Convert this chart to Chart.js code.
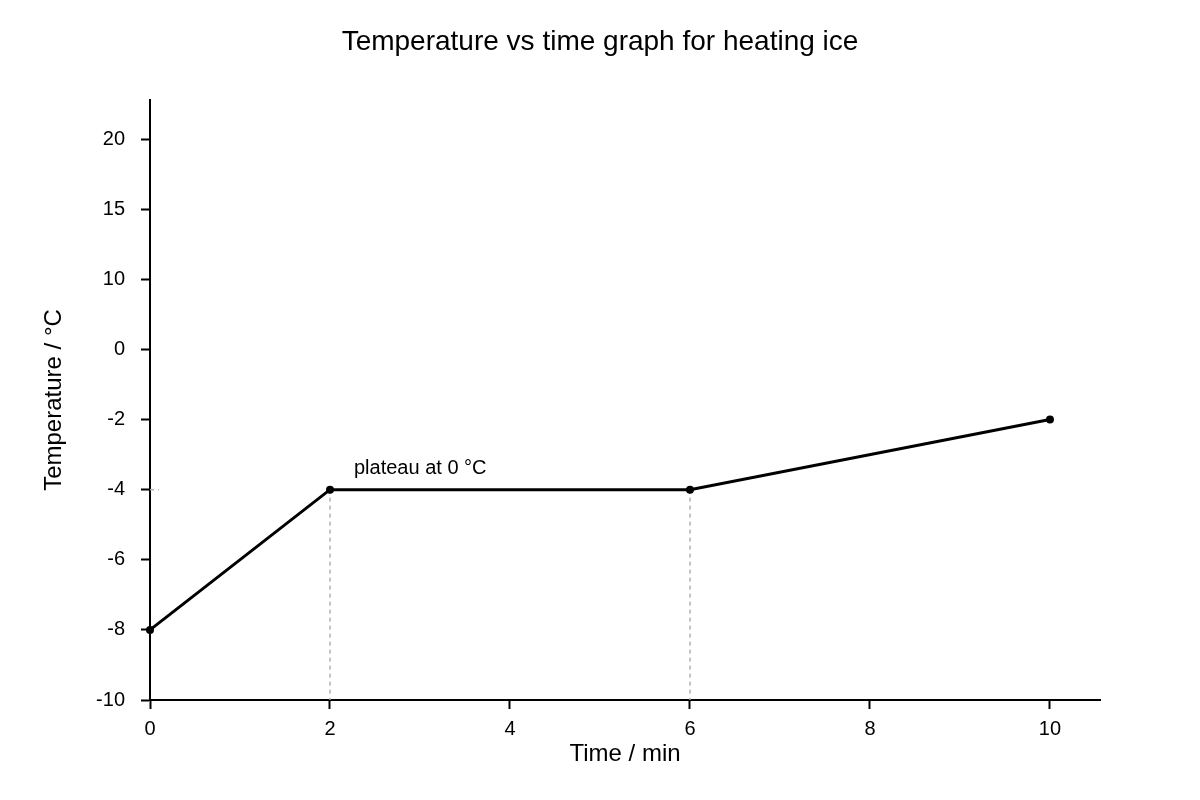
<!DOCTYPE html>
<html lang="en">
<head>
    <meta charset="UTF-8">
    <title>Temperature vs time graph for heating ice</title>
    <script src="https://cdn.jsdelivr.net/npm/chart.js"></script>
    <style>
        body {
            margin: 0;
            padding: 0;
            background: #fff;
        }

        .chart-box {
            width: 1200px;
            height: 800px;
        }
    </style>
</head>
<body>
    <div class="chart-box">
        <canvas id="iceChart" width="1200" height="800"></canvas>
    </div>

    <script>
        // data
        const times = [0, 2, 6, 10];
        const temps = [-8, -4, -4, -2];
        // y tick labels, bottom to top (evenly spaced on the axis)
        const yTickLabels = ['-10', '-8', '-6', '-4', '-2', '0', '10', '15', '20'];
        const xTickValues = [0, 2, 4, 6, 8, 10];
        // times where a dashed guide drops to the x axis
        const dropTimes = [2, 6];
        const plateauText = 'plateau at 0 °C';

        const FONT = "'Liberation Sans', Arial, sans-serif";

        // temperature label -> position on the evenly spaced axis
        function yPos(t) {
            return yTickLabels.indexOf(String(t));
        }

        const mainPoints = times.map((t, i) => ({ x: t, y: yPos(temps[i]) }));

        const dropSets = dropTimes.map(t => ({
            data: [{ x: t, y: yPos(temps[times.indexOf(t)]) }, { x: t, y: 0 }],
            borderColor: '#b0b0b0',
            borderWidth: 1.5,
            borderDash: [4, 4],
            pointRadius: 0,
            order: 2
        }));

        // short dashed stub at the plateau level next to the y axis
        const stubSet = {
            data: [{ x: 0, y: yPos(temps[1]) }, { x: 0.1, y: yPos(temps[1]) }],
            borderColor: '#b0b0b0',
            borderWidth: 1.5,
            borderDash: [4, 4],
            pointRadius: 0,
            order: 2
        };

        const plateauLabel = {
            id: 'plateauLabel',
            afterDatasetsDraw(chart) {
                const { ctx, scales } = chart;
                const x = scales.x.getPixelForValue(times[1]) + 24;
                const y = scales.y.getPixelForValue(yPos(temps[1])) - 21;
                ctx.save();
                ctx.font = '20px ' + FONT;
                ctx.fillStyle = '#000';
                ctx.textAlign = 'left';
                ctx.textBaseline = 'middle';
                ctx.fillText(plateauText, x, y);
                ctx.restore();
            }
        };

        new Chart(document.getElementById('iceChart'), {
            type: 'line',
            data: {
                datasets: [{
                    data: mainPoints,
                    borderColor: '#000',
                    backgroundColor: '#000',
                    borderWidth: 3,
                    pointRadius: 4,
                    pointBackgroundColor: '#000',
                    pointBorderWidth: 0,
                    clip: false,
                    order: 1
                }, ...dropSets, stubSet]
            },
            options: {
                responsive: false,
                devicePixelRatio: 1,
                animation: false,
                layout: {
                    padding: 0
                },
                plugins: {
                    legend: { display: false },
                    tooltip: { enabled: false },
                    title: {
                        display: true,
                        text: 'Temperature vs time graph for heating ice',
                        color: '#000',
                        font: { family: FONT, size: 28, weight: 'normal' },
                        padding: { top: 25, bottom: 41.4 }
                    }
                },
                scales: {
                    x: {
                        type: 'linear',
                        min: 0,
                        max: 10.556,
                        afterBuildTicks: s => { s.ticks = xTickValues.map(v => ({ value: v })); },
                        afterFit: s => { s.height = 100; },
                        border: { color: '#000', width: 2 },
                        grid: {
                            drawOnChartArea: false,
                            tickLength: 9,
                            tickColor: '#000',
                            tickWidth: 2
                        },
                        ticks: {
                            color: '#000',
                            padding: 8,
                            font: { family: FONT, size: 20 }
                        },
                        title: {
                            display: true,
                            text: 'Time / min',
                            color: '#000',
                            font: { family: FONT, size: 24 },
                            padding: { top: 0, bottom: 31 }
                        }
                    },
                    y: {
                        type: 'linear',
                        min: 0,
                        max: 8.557,
                        afterBuildTicks: s => { s.ticks = yTickLabels.map((l, i) => ({ value: i })); },
                        afterFit: s => { s.width = 150; },
                        border: { color: '#000', width: 2 },
                        grid: {
                            drawOnChartArea: false,
                            tickLength: 9,
                            tickColor: '#000',
                            tickWidth: 2
                        },
                        ticks: {
                            color: '#000',
                            padding: 16,
                            font: { family: FONT, size: 20 },
                            callback: v => yTickLabels[v] ?? ''
                        },
                        title: {
                            display: true,
                            text: 'Temperature / °C',
                            color: '#000',
                            font: { family: FONT, size: 24 },
                            padding: { top: 40, bottom: 0 }
                        }
                    },
                    // empty right-hand margin so the title centres on the whole canvas
                    pad: {
                        type: 'linear',
                        position: 'right',
                        display: true,
                        afterFit: s => { s.width = 100; },
                        border: { display: false },
                        grid: { display: false },
                        ticks: { display: false }
                    }
                }
            },
            plugins: [plateauLabel]
        });
    </script>
</body>
</html>
